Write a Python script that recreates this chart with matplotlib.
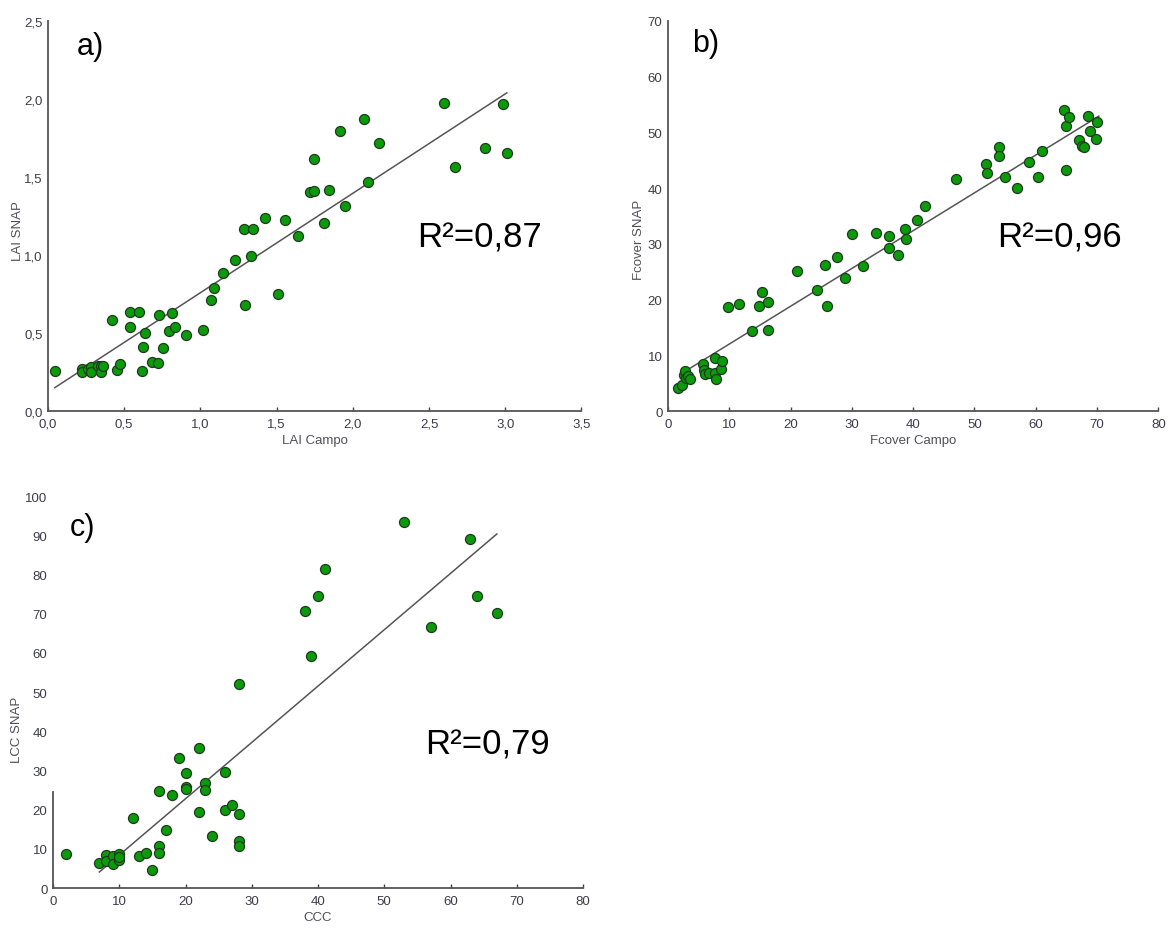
import numpy as np
import matplotlib
matplotlib.use("Agg")
import matplotlib.pyplot as plt
from matplotlib.ticker import FuncFormatter

plt.rcParams['font.family'] = ['Liberation Sans Narrow', 'Liberation Sans', 'DejaVu Sans']

# ---------------- data ----------------
lai_campo = [0.045, 0.22, 0.22, 0.26, 0.285, 0.285, 0.33, 0.35, 0.35, 0.36, 0.42, 0.455, 0.47,
             0.54, 0.54, 0.60, 0.62, 0.625, 0.635, 0.685, 0.72, 0.73, 0.757, 0.795, 0.816, 0.835,
             0.908, 1.014, 1.068, 1.087, 1.149, 1.226, 1.285, 1.295, 1.335, 1.344, 1.427, 1.507,
             1.557, 1.637, 1.719, 1.745, 1.745, 1.814, 1.842, 1.917, 1.946, 2.075, 2.097, 2.172,
             2.599, 2.67, 2.87, 2.983, 3.01]
lai_snap = [0.257, 0.27, 0.25, 0.27, 0.28, 0.25, 0.29, 0.29, 0.25, 0.29, 0.585, 0.26, 0.30,
            0.635, 0.54, 0.635, 0.255, 0.41, 0.50, 0.317, 0.31, 0.617, 0.405, 0.512, 0.628, 0.54,
            0.49, 0.519, 0.71, 0.787, 0.885, 0.967, 1.168, 0.677, 0.992, 1.168, 1.239, 0.748,
            1.222, 1.123, 1.402, 1.408, 1.616, 1.205, 1.413, 1.796, 1.316, 1.874, 1.468, 1.719,
            1.976, 1.563, 1.687, 1.966, 1.651]
lai_fit = (0.637, 0.121, 0.045, 3.01)  # slope, intercept, x start, x end

fc_campo = [1.7, 2.2, 2.6, 2.7, 2.9, 3.2, 3.6, 5.7, 5.9, 6.0, 6.6, 7.7, 7.7, 7.8, 8.7, 8.8,
            9.7, 11.6, 13.7, 14.9, 15.3, 16.3, 16.3, 21.0, 24.3, 25.6, 25.9, 27.6, 28.9, 30.0,
            31.8, 33.9, 36.0, 36.1, 37.6, 38.7, 38.8, 40.7, 41.9, 47.0, 51.9, 52.0, 54.0, 54.0,
            55.0, 56.9, 58.9, 60.4, 61.0, 64.6, 65.0, 65.0, 65.4, 67.0, 67.6, 67.9, 68.6, 68.9,
            69.8, 70.0]
fc_snap = [4.2, 4.6, 6.5, 7.1, 6.0, 6.2, 5.8, 8.45, 7.4, 6.6, 6.9, 9.5, 6.8, 5.75, 7.5, 8.9,
           18.6, 19.2, 14.3, 18.9, 21.4, 19.5, 14.5, 25.2, 21.7, 26.2, 18.9, 27.7, 23.8, 31.8,
           26.1, 32.0, 31.4, 29.2, 28.0, 32.7, 30.8, 34.3, 36.8, 41.6, 44.4, 42.7, 47.3, 45.8,
           41.9, 40.0, 44.7, 41.9, 46.6, 54.0, 51.2, 43.3, 52.7, 48.7, 47.6, 47.3, 53.0, 50.2,
           48.8, 51.9]
fc_fit = (0.678, 5.24, 2.3, 70.3)

ccc = [2, 7, 8, 8, 9, 9, 10, 10, 10, 12, 13, 14, 15, 16, 16, 16, 17, 18, 19, 20, 20, 20,
       22, 22, 23, 23, 24, 26, 26, 27, 28, 28, 28, 28, 38, 39, 40, 41, 53, 57, 63, 64, 67]
lcc_snap = [8.6, 6.5, 8.4, 6.8, 8.3, 6.2, 8.6, 7.1, 7.9, 17.8, 8.1, 8.9, 4.6, 10.7, 8.9, 24.7,
            14.9, 23.8, 33.2, 29.3, 25.7, 25.3, 35.7, 19.5, 26.9, 25.1, 13.4, 29.5, 19.9, 21.3,
            19.0, 11.9, 10.6, 52.1, 70.7, 59.2, 74.5, 81.4, 93.4, 66.6, 89.0, 74.6, 70.1]
lcc_fit = (1.437, -5.96, 7.0, 67.0)

panels = [
    dict(x=lai_campo, y=lai_snap, fit=lai_fit, xlim=(0, 3.5), ylim=(0, 2.5),
         xticks=np.arange(0, 3.51, 0.5), yticks=np.arange(0, 2.51, 0.5), comma=True,
         xlabel='LAI Campo', ylabel='LAI SNAP', letter='a)', r2='R²=0,87',
         letter_pos=(0.19, 2.34), r2_pos=(2.42, 1.115), pos=[0.041, 0.5565, 0.456, 0.42],
         ylabel_xy=(-0.045, 0.464), spine_top=None),
    dict(x=fc_campo, y=fc_snap, fit=fc_fit, xlim=(0, 80), ylim=(0, 70),
         xticks=np.arange(0, 81, 10), yticks=np.arange(0, 71, 10), comma=False,
         xlabel='Fcover Campo', ylabel='Fcover SNAP', letter='b)', r2='R²=0,96',
         letter_pos=(4.0, 66.0), r2_pos=(53.7, 31.2), pos=[0.571, 0.5565, 0.419, 0.42],
         ylabel_xy=(-0.047, 0.44), spine_top=None),
    dict(x=ccc, y=lcc_snap, fit=lcc_fit, xlim=(0, 80), ylim=(0, 100),
         xticks=np.arange(0, 81, 10), yticks=np.arange(0, 101, 10), comma=False,
         xlabel='CCC', ylabel='LCC SNAP', letter='c)', r2='R²=0,79',
         letter_pos=(2.6, 92.0), r2_pos=(56.2, 36.7), pos=[0.0453, 0.043, 0.453, 0.422],
         ylabel_xy=(-0.056, 0.405), spine_top=24.5),
]

fig = plt.figure(figsize=(11.7, 9.29), dpi=100)

for p in panels:
    ax = fig.add_axes(p['pos'])
    ax.set_xlim(*p['xlim'])
    ax.set_ylim(*p['ylim'])
    for s in ['top', 'right']:
        ax.spines[s].set_visible(False)
    for s in ['left', 'bottom']:
        ax.spines[s].set_color('#555555')
        ax.spines[s].set_linewidth(1.3)
    if p['spine_top'] is not None:
        ax.spines['left'].set_bounds(0, p['spine_top'])
    ax.set_xticks(p['xticks'])
    ax.set_yticks(p['yticks'])
    if p['comma']:
        fmt = FuncFormatter(lambda v, _: f'{v:.1f}'.replace('.', ','))
    else:
        fmt = FuncFormatter(lambda v, _: f'{v:.0f}')
    ax.xaxis.set_major_formatter(fmt)
    ax.yaxis.set_major_formatter(fmt)
    ax.tick_params(axis='x', direction='in', length=3, width=1, color='#444444',
                   labelsize=9.5, labelcolor='#3c3c48', pad=5)
    ax.tick_params(axis='y', direction='out', length=0, width=1, color='#444444',
                   labelsize=9.5, labelcolor='#3c3c48', pad=4)
    ax.set_xlabel(p['xlabel'], fontsize=9.5, color='#505058', labelpad=3)
    ax.set_ylabel(p['ylabel'], fontsize=9.5, color='#505058')
    ax.yaxis.set_label_coords(*p['ylabel_xy'])

    slope, icpt, x0, x1 = p['fit']
    xs = np.array([x0, x1])
    ax.plot(xs, slope * xs + icpt, color='#555555', lw=1.1, zorder=2)
    ax.scatter(p['x'], p['y'], s=52, facecolor='#0a9a0a', edgecolor='#1e3a1e',
               linewidth=0.9, zorder=3, clip_on=False)

    ax.text(*p['letter_pos'], p['letter'], fontsize=22, color='black', va='center',
            ha='left', family=['Liberation Sans', 'DejaVu Sans'])
    ax.text(*p['r2_pos'], p['r2'], fontsize=25, color='black', va='center',
            ha='left', family=['Liberation Sans', 'DejaVu Sans'])

fig.savefig('out.png', dpi=100)
